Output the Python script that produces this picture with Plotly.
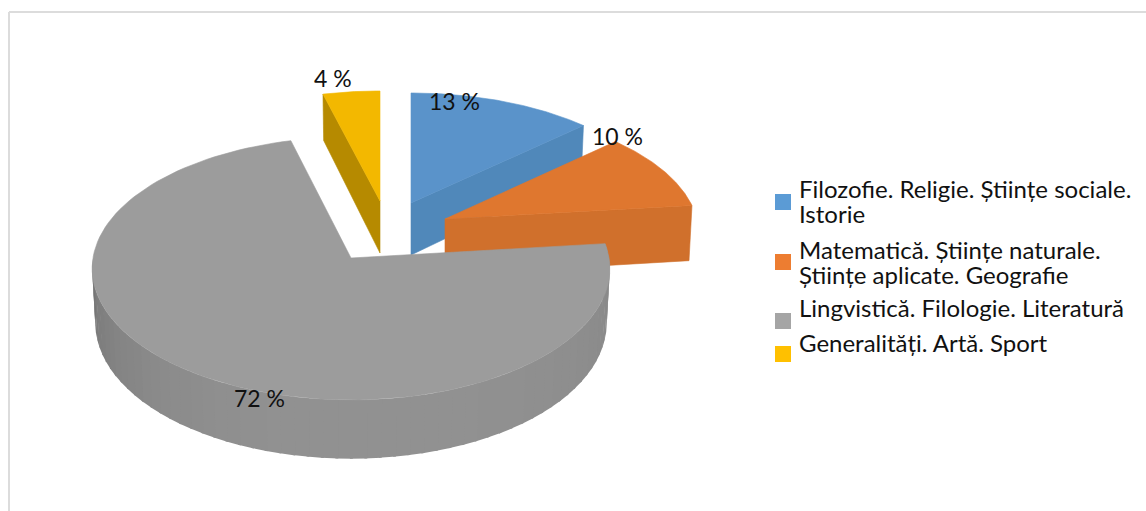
import numpy as np
import plotly.graph_objects as go

# data
categories = ["Filozofie. Religie. Științe sociale.<br>Istorie",
              "Matematică. Științe naturale.<br>Științe aplicate. Geografie",
              "Lingvistică. Filologie. Literatură",
              "Generalități. Artă. Sport"]
values = [13, 10, 72, 4]

# styling, one entry per slice
TOP = ["#5A93CA", "#DF772F", "#9C9C9C", "#F3B800"]
SIDE = ["#5088BA", "#D0702C", "#8E8E8E", "#B68A00"]
SWATCH = ["#5B9BD5", "#ED7D31", "#A5A5A5", "#FFC000"]
APEX = [(411, 203), (445, 219), (351, 258), (380, 201)]
CUT = ["end", "end", None, "start"]
RADIUS = [255, 252, 258, 255]
FLAT = [124, 124, 130.6, 124]       # vertical squash of the disc
PERSP = [0.127, 0.127, 0.08, 0.127]  # how much the far side shrinks
DEPTH = [52, 56, 54, 52]
LABEL_AT = [(454, 101), (617, 136), (259, 398), (333, 78)]
SWATCH_Y = [202, 262, 321, 354]
LEGEND_Y = [[188, 213], [249, 274], [307], [342]]

FONT = "Lato"


def project(i, deg, r=1.0, z=0.0):
    a = np.radians(deg)
    u, v = r * np.sin(a), r * np.cos(a)
    s = 1 / (1 + PERSP[i] * v)
    return (APEX[i][0] + RADIUS[i] * u * s * (1 - 0.012 * z),
            APEX[i][1] - FLAT[i] * v * s + DEPTH[i] * s * z)


def poly(pts, color, name, width=0.6):
    xs, ys = zip(*pts)
    return go.Scatter(x=list(xs) + [xs[0]], y=list(ys) + [ys[0]], mode="lines", fill="toself",
                      fillcolor=color, line=dict(color=color, width=width), name=name,
                      hoverinfo="name", showlegend=False)


def wall_shade(deg):
    # front wall of the big slice: dark on the left, lighter towards the middle
    t = abs(deg - 180) / 90
    g = 146 - 30 * t ** 2 if deg > 180 else 146 - 10 * t ** 2
    g = int(g)
    return f"rgb({g},{g},{g})"


shares = np.array(values) / sum(values) * 360
ends = np.cumsum(shares)
starts = ends - shares

fig = go.Figure()
for i in [3, 0, 1, 2]:
    a0, a1 = starts[i], ends[i]
    name = categories[i].replace("<br>", " ")
    if CUT[i]:
        edge = a1 if CUT[i] == "end" else a0
        fig.add_trace(poly([project(i, edge, 0), project(i, edge),
                            project(i, edge, 1, 1), project(i, edge, 0, 1)], SIDE[i], name))
    if i == 2:
        steps = np.arange(a0, 272, 3.0)
        for d0, d1 in zip(steps[:-1], steps[1:]):
            fig.add_trace(poly([project(i, d0), project(i, d1 + 0.6),
                                project(i, d1 + 0.6, 1, 1), project(i, d0, 1, 1)],
                               wall_shade((d0 + d1) / 2), name, width=0))
    rim = [project(i, d) for d in np.linspace(a0, a1, 120)]
    fig.add_trace(poly([project(i, a0, 0)] + rim, TOP[i], name))

fig.add_trace(go.Scatter(x=[783] * 4, y=SWATCH_Y, mode="markers", hoverinfo="skip", showlegend=False,
                         marker=dict(symbol="square", size=16, color=SWATCH)))

for v, (x, y) in zip(values, LABEL_AT):
    fig.add_annotation(x=x, y=y, text=f"{v} %", showarrow=False,
                       font=dict(family=FONT, size=23, color="#111111"))
for cat, ys in zip(categories, LEGEND_Y):
    for line, y in zip(cat.split("<br>"), ys):
        fig.add_annotation(x=797, y=y, text=line, showarrow=False, xanchor="left",
                           font=dict(family=FONT, size=24, color="#111111"))

# chart frame, only top and left survive the crop
fig.add_shape(type="line", x0=9, x1=1146, y0=12, y1=12, line=dict(color="#DCDCDC", width=2))
fig.add_shape(type="line", x0=9, x1=9, y0=12, y1=511, line=dict(color="#DCDCDC", width=2))

fig.update_layout(width=1146, height=511, margin=dict(l=0, r=0, t=0, b=0), autosize=False,
                  plot_bgcolor="white", paper_bgcolor="white", showlegend=False)
fig.update_xaxes(range=[0, 1146], visible=False, fixedrange=True)
fig.update_yaxes(range=[511, 0], visible=False, fixedrange=True)
# the page's default body margin would push the plot 8px off
fig.write_html("out.html", config=dict(displayModeBar=False),
               post_script="document.body.style.margin='0';")
